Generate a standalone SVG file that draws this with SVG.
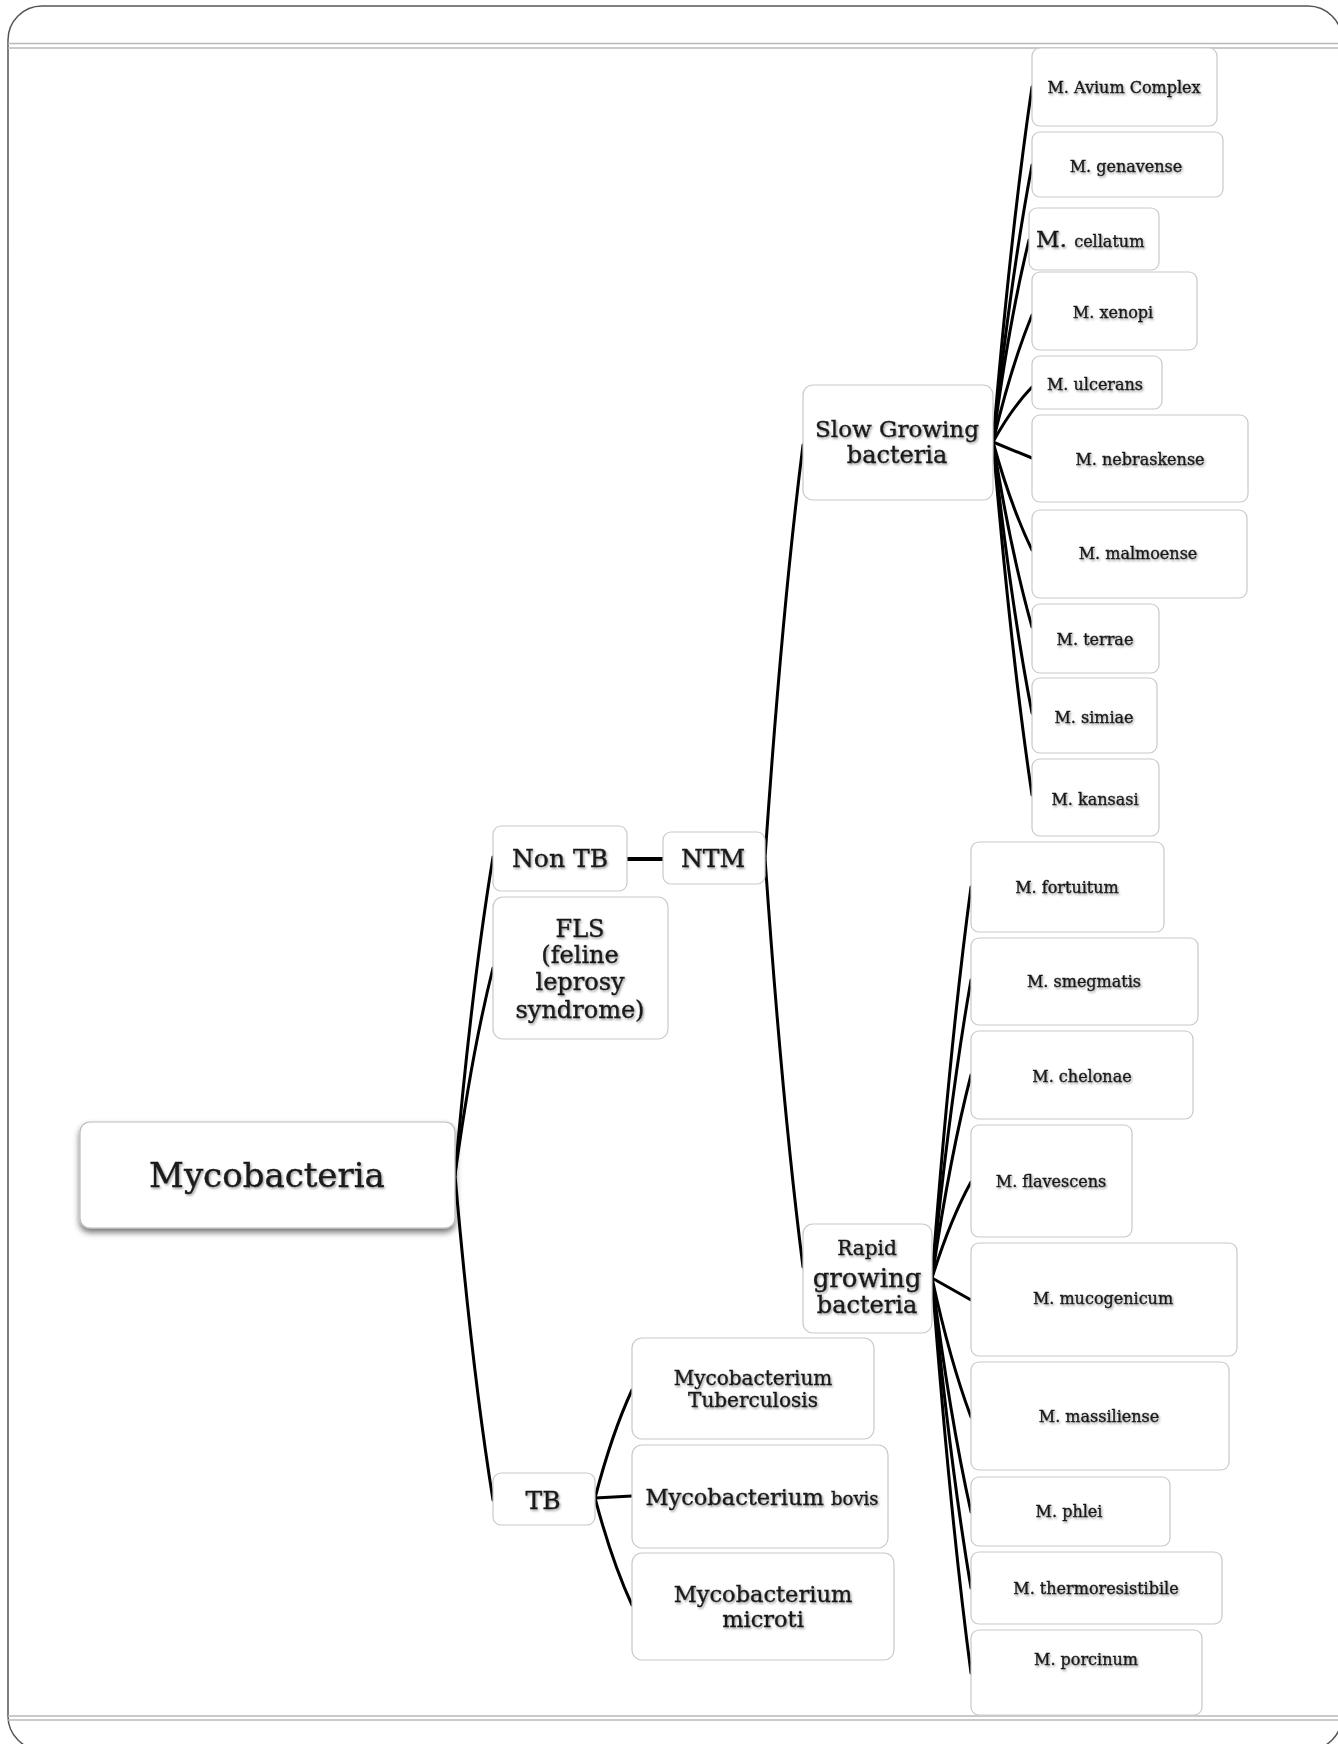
<svg xmlns="http://www.w3.org/2000/svg" width="1338" height="1744" viewBox="0 0 1338 1744">
<defs>
<filter id="ts" x="-10%" y="-30%" width="120%" height="160%">
<feDropShadow dx="1.2" dy="1.5" stdDeviation="1" flood-color="#000" flood-opacity="0.4"/>
</filter>
<filter id="bs" x="-10%" y="-20%" width="120%" height="150%">
<feDropShadow dx="0" dy="4" stdDeviation="3" flood-color="#000" flood-opacity="0.55"/>
</filter>
<style>
.frame{fill:none;stroke:#555;stroke-width:1.5}
.rule{stroke:#b8b8b8;stroke-width:1.5}
.box{fill:#fff;stroke:#c9c9c9;stroke-width:1.2}
.root{fill:#fff;stroke:#bbb;stroke-width:1.2;filter:url(#bs)}
text{font-family:"DejaVu Serif","Liberation Serif",serif;fill:#1a1a1a;stroke:#1a1a1a;stroke-width:0.35;text-anchor:middle;filter:url(#ts)}
.s{font-size:16px}
.m{font-size:24px}
.c{fill:none;stroke:#000;stroke-width:3;stroke-linecap:round}
</style>
</defs>
<rect class="frame" x="8" y="6" width="1334" height="1744" rx="34"/>
<line class="rule" x1="8" y1="43.5" x2="1338" y2="43.5"/>
<line class="rule" x1="8" y1="48" x2="1338" y2="48"/>
<line class="rule" x1="8" y1="1716" x2="1338" y2="1716"/>
<line class="rule" x1="8" y1="1720" x2="1338" y2="1720"/>

<g id="connectors">
<path class="c" d="M455 1175 Q472 984 493 857"/>
<path class="c" d="M455 1175 Q472 1051 493 968"/>
<path class="c" d="M455 1175 Q472 1370 493 1500"/>
<path class="c" d="M627 859 L663 859" style="stroke-width:4"/>
<path class="c" d="M765 858 Q782 610 803 445"/>
<path class="c" d="M765 858 Q782 1103 803 1267"/>
<path class="c" d="M595 1498 Q612 1433 632 1390"/>
<path class="c" d="M595 1498 L632 1496"/>
<path class="c" d="M595 1498 Q612 1562 632 1605"/>
<path class="c" d="M993 442 Q1011 229 1032 87"/>
<path class="c" d="M993 442 Q1011 276 1032 165"/>
<path class="c" d="M993 442 Q1009 321 1029 240"/>
<path class="c" d="M993 442 Q1011 366 1032 315"/>
<path class="c" d="M993 442 Q1011 409 1032 387"/>
<path class="c" d="M993 442 L1032 458"/>
<path class="c" d="M993 442 Q1011 507 1032 550"/>
<path class="c" d="M993 442 Q1011 553 1032 627"/>
<path class="c" d="M993 442 Q1011 605 1032 713"/>
<path class="c" d="M993 442 Q1011 654 1032 795"/>
<path class="c" d="M932 1278 Q950 1043 971 887"/>
<path class="c" d="M932 1278 Q950 1099 971 980"/>
<path class="c" d="M932 1278 Q950 1156 971 1075"/>
<path class="c" d="M932 1278 Q950 1220 971 1182"/>
<path class="c" d="M932 1278 L971 1300"/>
<path class="c" d="M932 1278 Q950 1361 971 1417"/>
<path class="c" d="M932 1278 Q950 1418 971 1512"/>
<path class="c" d="M932 1278 Q950 1464 971 1588"/>
<path class="c" d="M932 1278 Q950 1515 971 1673"/>
</g>

<g id="mycobacteria"><rect class="root" x="80" y="1122" width="375" height="106" rx="10"/><text x="267" y="1187" style="font-size:34px">Mycobacteria</text></g>
<g id="nontb"><rect class="box" x="493" y="826" width="134" height="65" rx="8"/><text class="m" x="560" y="867" style="font-size:25px">Non TB</text></g>
<g id="ntm"><rect class="box" x="663" y="832" width="102" height="52" rx="8"/><text class="m" x="713" y="867" style="font-size:25px">NTM</text></g>
<g id="fls"><rect class="box" x="493" y="897" width="175" height="142" rx="10"/><text class="m" x="580" y="937">FLS</text><text class="m" x="580" y="963">(feline</text><text class="m" x="580" y="990">leprosy</text><text class="m" x="580" y="1018">syndrome)</text></g>
<g id="tb"><rect class="box" x="493" y="1473" width="102" height="52" rx="8"/><text class="m" x="543" y="1509" style="font-size:25px">TB</text></g>
<g id="mtuberculosis"><rect class="box" x="632" y="1338" width="242" height="101" rx="10"/><text x="753" y="1385" style="font-size:20px">Mycobacterium</text><text x="753" y="1407" style="font-size:20px">Tuberculosis</text></g>
<g id="mbovis"><rect class="box" x="632" y="1445" width="256" height="103" rx="10"/><text x="762" y="1505" style="font-size:22.5px">Mycobacterium <tspan style="font-size:18px">bovis</tspan></text></g>
<g id="mmicroti"><rect class="box" x="632" y="1553" width="262" height="107" rx="10"/><text x="763" y="1602" style="font-size:22.5px">Mycobacterium</text><text x="763" y="1627" style="font-size:22.5px">microti</text></g>
<g id="slow"><rect class="box" x="803" y="385" width="190" height="115" rx="10"/><text x="897" y="437" style="font-size:23px">Slow Growing</text><text x="897" y="463" style="font-size:24px">bacteria</text></g>
<g id="rapid"><rect class="box" x="803" y="1224" width="129" height="109" rx="10"/><text x="867" y="1255" style="font-size:20px">Rapid</text><text x="867" y="1287" style="font-size:26px">growing</text><text x="867" y="1313" style="font-size:24px">bacteria</text></g>

<g id="avium"><rect class="box" x="1032" y="48" width="185" height="78" rx="8"/><text class="s" x="1124" y="93">M. Avium Complex</text></g>
<g id="genavense"><rect class="box" x="1032" y="132" width="191" height="65" rx="8"/><text class="s" x="1126" y="172">M. genavense</text></g>
<g id="cellatum"><rect class="box" x="1029" y="208" width="130" height="62" rx="8"/><text x="1036" y="247" style="text-anchor:start;font-size:23px">M. <tspan style="font-size:16px">cellatum</tspan></text></g>
<g id="xenopi"><rect class="box" x="1032" y="272" width="165" height="78" rx="8"/><text class="s" x="1113" y="318">M. xenopi</text></g>
<g id="ulcerans"><rect class="box" x="1032" y="356" width="130" height="53" rx="8"/><text class="s" x="1095" y="390">M. ulcerans</text></g>
<g id="nebraskense"><rect class="box" x="1032" y="415" width="216" height="87" rx="8"/><text class="s" x="1140" y="465">M. nebraskense</text></g>
<g id="malmoense"><rect class="box" x="1032" y="510" width="215" height="88" rx="8"/><text class="s" x="1138" y="559">M. malmoense</text></g>
<g id="terrae"><rect class="box" x="1032" y="604" width="127" height="69" rx="8"/><text class="s" x="1095" y="645">M. terrae</text></g>
<g id="simiae"><rect class="box" x="1032" y="678" width="125" height="75" rx="8"/><text class="s" x="1094" y="723">M. simiae</text></g>
<g id="kansasi"><rect class="box" x="1032" y="759" width="127" height="77" rx="8"/><text class="s" x="1095" y="805">M. kansasi</text></g>

<g id="fortuitum"><rect class="box" x="971" y="842" width="193" height="90" rx="8"/><text class="s" x="1067" y="893">M. fortuitum</text></g>
<g id="smegmatis"><rect class="box" x="971" y="938" width="227" height="87" rx="8"/><text class="s" x="1084" y="987">M. smegmatis</text></g>
<g id="chelonae"><rect class="box" x="971" y="1031" width="222" height="88" rx="8"/><text class="s" x="1082" y="1082">M. chelonae</text></g>
<g id="flavescens"><rect class="box" x="971" y="1125" width="161" height="112" rx="8"/><text class="s" x="1051" y="1187">M. flavescens</text></g>
<g id="mucogenicum"><rect class="box" x="971" y="1243" width="266" height="113" rx="8"/><text class="s" x="1103" y="1304">M. mucogenicum</text></g>
<g id="massiliense"><rect class="box" x="971" y="1362" width="258" height="108" rx="8"/><text class="s" x="1099" y="1422">M. massiliense</text></g>
<g id="phlei"><rect class="box" x="971" y="1477" width="199" height="69" rx="8"/><text class="s" x="1069" y="1517">M. phlei</text></g>
<g id="thermoresistibile"><rect class="box" x="971" y="1552" width="251" height="72" rx="8"/><text class="s" x="1096" y="1594">M. thermoresistibile</text></g>
<g id="porcinum"><rect class="box" x="971" y="1630" width="231" height="85" rx="8"/><text class="s" x="1086" y="1665">M. porcinum</text></g>
</svg>
